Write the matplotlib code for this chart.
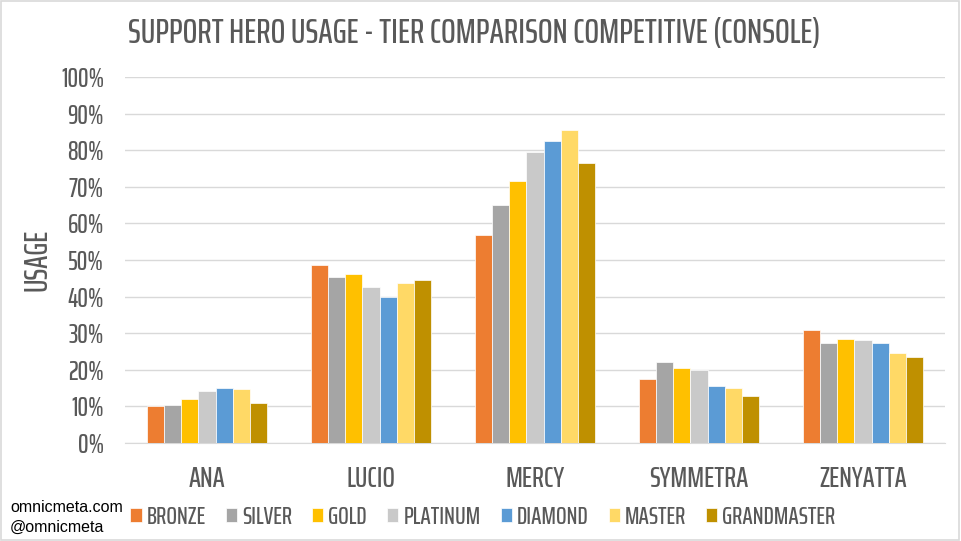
import matplotlib
matplotlib.use("Agg")
import matplotlib.pyplot as plt
import numpy as np
from matplotlib.patches import Rectangle

heroes = ["ANA", "LUCIO", "MERCY", "SYMMETRA", "ZENYATTA"]
tiers = ["BRONZE", "SILVER", "GOLD", "PLATINUM", "DIAMOND", "MASTER", "GRANDMASTER"]
bronze = [10.1, 48.7, 56.7, 17.5, 30.9]
silver = [10.4, 45.4, 64.9, 22.1, 27.4]
gold = [11.9, 46.2, 71.6, 20.6, 28.3]
platinum = [14.1, 42.6, 79.4, 20.0, 28.1]
diamond = [15.0, 39.8, 82.4, 15.7, 27.2]
master = [14.8, 43.8, 85.4, 14.9, 24.5]
grandmaster = [10.8, 44.5, 76.5, 12.8, 23.4]
yticks = [0, 10, 20, 30, 40, 50, 60, 70, 80, 90, 100]

series = [bronze, silver, gold, platinum, diamond, master, grandmaster]
colors = ["#ED7D31", "#A5A5A5", "#FFC000", "#C9C9C9", "#5B9BD5", "#FFD966", "#BF9000"]

FONT = ["Saira ExtraCondensed", "Teko", "DejaVu Sans"]
TXT = "#595959"
WT = "medium"

fig = plt.figure(figsize=(9.61, 5.41), dpi=100)
ax = fig.add_axes([125/961, 1-443/541, 820/961, 366/541])

x = np.arange(len(heroes))
w = 0.104
n = len(series)
for i, (vals, c, lab) in enumerate(zip(series, colors, tiers)):
    ax.bar(x + (i - (n-1)/2) * w, vals, width=w, color=c, label=lab,
           edgecolor="white", linewidth=0.5, zorder=3)

ax.set_xlim(-0.5, len(heroes) - 0.5)
ax.set_ylim(0, 100)
ax.set_yticks(yticks)
ax.set_yticklabels([f"{t}%" for t in yticks], fontfamily=FONT, fontsize=19, color=TXT, fontweight=WT)
ax.set_xticks(x)
ax.set_xticklabels(heroes, fontfamily=FONT, fontsize=21, color=TXT, fontweight=WT)
ax.tick_params(axis="both", length=0)
ax.tick_params(axis="y", pad=15)
ax.tick_params(axis="x", pad=16)
ax.grid(axis="y", color="#D9D9D9", linewidth=1.0, zorder=0)
for s in ["top", "right", "left"]:
    ax.spines[s].set_visible(False)
ax.spines["bottom"].set_color("#D9D9D9")
ax.set_ylabel("USAGE", fontfamily=FONT, fontsize=23, color=TXT, labelpad=6, fontweight=WT)

fig.text(474/961, 1-34/541, "SUPPORT HERO USAGE - TIER COMPARISON COMPETITIVE (CONSOLE)",
         ha="center", va="center", fontfamily=FONT, fontsize=25, color=TXT, fontweight=WT)

handles, labels = ax.get_legend_handles_labels()
leg = fig.legend(handles, labels, loc="center", bbox_to_anchor=(483/961, 1-517/541),
                 ncol=7, frameon=False, handlelength=0.45, handleheight=0.45,
                 handletextpad=0.2, columnspacing=0.8, borderaxespad=0,
                 prop={"family": FONT, "size": 18, "weight": WT})
for t in leg.get_texts():
    t.set_color(TXT)

fig.text(10/961, 1-508/541, "omnicmeta.com", ha="left", va="center",
         fontfamily="Liberation Sans", fontsize=11.5, color="black")
fig.text(10/961, 1-527/541, "@omnicmeta", ha="left", va="center",
         fontfamily="Liberation Sans", fontsize=11.5, color="black")

fig.patches.append(Rectangle((0.001, 0.002), 0.997, 0.996, transform=fig.transFigure,
                             fill=False, edgecolor="#D9D9D9", linewidth=1.2))

fig.savefig("out.png", dpi=100)
